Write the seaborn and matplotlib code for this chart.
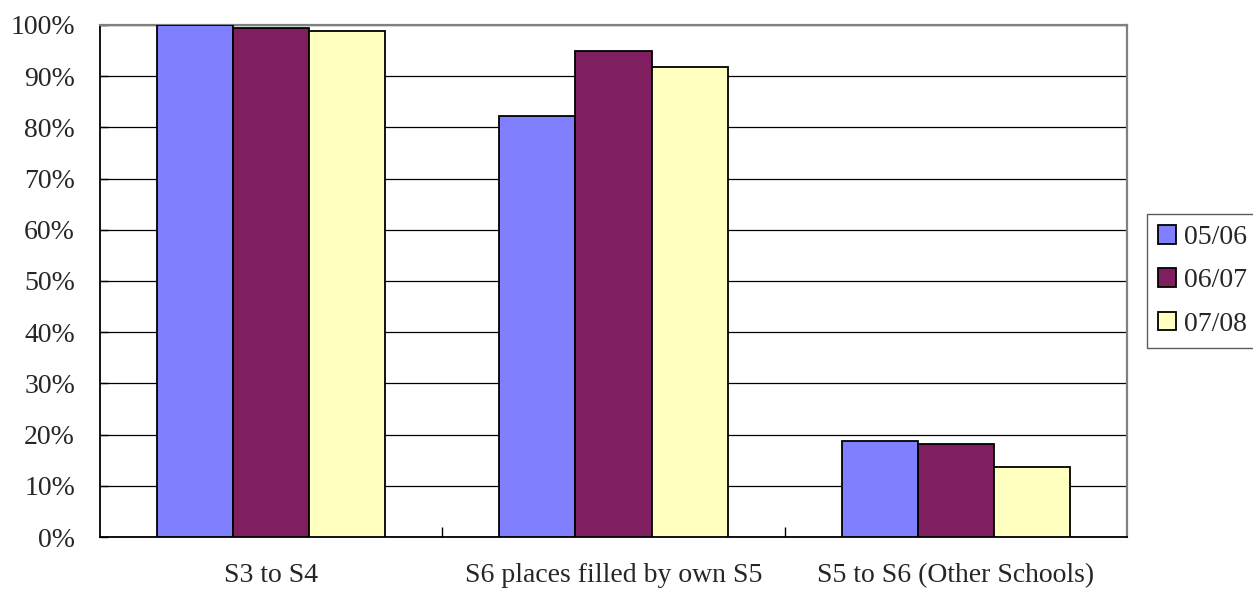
import numpy as np
import pandas as pd
import matplotlib
matplotlib.use("Agg")
import matplotlib.pyplot as plt
import seaborn as sns
from matplotlib.ticker import FixedLocator, PercentFormatter

# chart values
categories = ["S3 to S4", "S6 places filled by own S5", "S5 to S6 (Other Schools)"]
years = ["05/06", "06/07", "07/08"]
vals_0506 = [100.0, 82.2, 18.8]
vals_0607 = [99.5, 94.9, 18.1]
vals_0708 = [98.9, 91.7, 13.7]
colours = ["#8080FF", "#7F1F5F", "#FFFFC0"]

df = pd.DataFrame({
    "category": categories * 3,
    "year": [years[0]] * 3 + [years[1]] * 3 + [years[2]] * 3,
    "value": vals_0506 + vals_0607 + vals_0708,
})

sns.set_style("white")
plt.rcParams["font.family"] = ["Liberation Serif", "DejaVu Serif"]

fig = plt.figure(figsize=(12.53, 5.97), dpi=100)
ax = fig.add_axes([0.0798, 0.1005, 0.8196, 0.8577])

sns.barplot(data=df, x="category", y="value", hue="year", order=categories,
            hue_order=years, palette=colours, width=0.667, saturation=1,
            edgecolor="black", linewidth=1.3, ax=ax, zorder=3)

ax.set_ylim(0, 100)
ax.set_xlim(-0.5, 2.5)
ax.set_yticks(np.arange(0, 101, 10))
ax.yaxis.set_major_formatter(PercentFormatter(decimals=0))
ax.yaxis.grid(True, color="black", linewidth=0.9, zorder=0)
ax.set_axisbelow(True)
ax.set_xlabel("")
ax.set_ylabel("")

ax.tick_params(axis="y", labelsize=20, direction="in", length=6, width=1,
               left=True, color="black", pad=18)
ax.tick_params(axis="x", which="major", labelsize=20, length=0, pad=19)
ax.xaxis.set_minor_locator(FixedLocator([0.5, 1.5]))
ax.tick_params(axis="x", which="minor", direction="in", length=7, width=1,
               bottom=True, color="black")

for side in ["left", "bottom"]:
    ax.spines[side].set_color("black")
    ax.spines[side].set_linewidth(1.3)
for side in ["top", "right"]:
    ax.spines[side].set_color("#808080")
    ax.spines[side].set_linewidth(1.6)

leg = ax.legend(loc="center left", bbox_to_anchor=(1.0195, 0.50), fontsize=20,
                frameon=True, fancybox=False, edgecolor="#333333",
                handlelength=0.65, handleheight=0.65, handletextpad=0.3,
                labelspacing=0.66, borderpad=0.4, borderaxespad=0)
leg.get_frame().set_linewidth(1)

fig.savefig("out.png", dpi=100)
